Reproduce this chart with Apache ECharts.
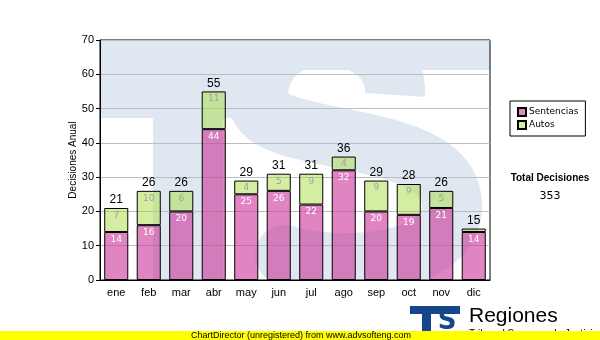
<!DOCTYPE html>
<html><head><meta charset="utf-8">
<script src="https://cdn.jsdelivr.net/npm/echarts@6/dist/echarts.min.js"></script>
<style>html,body{margin:0;padding:0;background:#fff}#c{width:600px;height:340px}</style>
</head><body><div id="c"></div>
<script>
const months = ['ene','feb','mar','abr','may','jun','jul','ago','sep','oct','nov','dic'];
const sentencias = [14,16,20,44,25,26,22,32,20,19,21,14];
const autos = [7,10,6,11,4,5,9,4,9,9,5,1];
const yMin = 0, yMax = 70, yStep = 10;
const seriesNames = ['Sentencias','Autos'];
const totalTitle = 'Total Decisiones';
const yAxisTitle = 'Decisiones Anual';

const totals = sentencias.map((v,i)=>v+autos[i]);
const grandTotal = totals.reduce((a,b)=>a+b,0);
const wm = '#dfe8f1';

function bez(x1,y1,cpx1,cpy1,cpx2,cpy2,x2,y2,cap){
  return {type:'bezierCurve',z:-10,shape:{x1,y1,cpx1,cpy1,cpx2,cpy2,x2,y2},
    style:{fill:null,stroke:wm,lineWidth:60,lineCap:cap||'round'}};
}

const chart = echarts.init(document.getElementById('c'), null, {renderer:'canvas'});
chart.setOption({
  animation:false,
  backgroundColor:'#fff',
  grid:{left:100,right:110,top:40,bottom:60,show:true,borderColor:'#000',borderWidth:1,backgroundColor:'transparent'},
  legend:{
    data:seriesNames, orient:'vertical', left:510, top:101,
    borderColor:'#000', borderWidth:1, backgroundColor:'#fff',
    padding:[6,7,6,7], itemWidth:8, itemHeight:8, itemGap:3, icon:'rect',
    textStyle:{fontFamily:'DejaVu Sans',fontSize:9,color:'#000',padding:[0,0,0,-2]}
  },
  xAxis:{type:'category',data:months,
    axisLine:{lineStyle:{color:'#000',width:1}},
    axisTick:{alignWithLabel:true,length:4,lineStyle:{color:'#000'}},
    axisLabel:{fontFamily:'Liberation Sans',fontSize:11,color:'#000',margin:7}},
  yAxis:{type:'value',min:yMin,max:yMax,interval:yStep,
    name:yAxisTitle,nameLocation:'middle',nameGap:22,nameMoveOverlap:false,
    nameTextStyle:{fontFamily:'Liberation Sans',fontSize:10,color:'#000'},
    axisLine:{show:true,lineStyle:{color:'#000'}},
    axisTick:{show:true,length:4,lineStyle:{color:'#000'}},
    axisLabel:{fontFamily:'Liberation Sans',fontSize:11,color:'#000',margin:6},
    splitLine:{lineStyle:{color:'#bdbdbd',width:1}}},
  series:[
    {name:seriesNames[0],type:'bar',stack:'t',data:sentencias,barWidth:'74%',
     itemStyle:{color:'rgba(204,51,153,0.6)',borderColor:'#000',borderWidth:1},
     label:{show:true,position:'insideTop',distance:3,color:'#fff',fontFamily:'DejaVu Sans',fontSize:9}},
    {name:seriesNames[1],type:'bar',stack:'t',data:autos,
     itemStyle:{color:'rgba(170,220,70,0.5)',borderColor:'#000',borderWidth:1},
     label:{show:true,position:'insideTop',distance:3,color:'#a0a0a0',fontFamily:'DejaVu Sans',fontSize:9,
       formatter:p=>p.value>=3?String(p.value):''}},
    {name:'Total',type:'bar',stack:'t',data:totals.map(()=>0),
     itemStyle:{color:'transparent',borderWidth:0},
     label:{show:true,position:'top',distance:2,color:'#000',fontFamily:'Liberation Sans',fontSize:12,
       formatter:p=>String(totals[p.dataIndex])}}
  ],
  graphic:[
    {type:'rect',z:-10,shape:{x:100,y:40,width:150,height:78},style:{fill:wm}},
    {type:'rect',z:-10,shape:{x:153,y:40,width:70,height:240},style:{fill:wm}},
    {type:'rect',z:-10,shape:{x:300,y:40,width:190,height:30},style:{fill:wm}},
    bez(395,95, 400,20, 255,10, 258,100, 'butt'),
    bez(258,100, 262,150, 450,125, 452,205),
    bez(452,205, 454,265, 340,272, 285,255),
    {type:'rect',z:-5,shape:{x:0,y:0,width:600,height:40},style:{fill:'#fff'}},
    {type:'rect',z:-5,shape:{x:0,y:0,width:100,height:340},style:{fill:'#fff'}},
    {type:'rect',z:-5,shape:{x:490,y:0,width:110,height:340},style:{fill:'#fff'}},
    {type:'rect',z:-5,shape:{x:0,y:280,width:600,height:60},style:{fill:'#fff'}},
    {type:'text',z:5,style:{text:totalTitle,x:550,y:178,align:'center',verticalAlign:'middle',fontFamily:'Liberation Sans',fontWeight:'bold',fontSize:10,fill:'#000'}},
    {type:'text',z:5,style:{text:String(grandTotal),x:550,y:196,align:'center',verticalAlign:'middle',fontFamily:'DejaVu Sans',fontSize:11,fill:'#000'}},
    {type:'rect',z:5,shape:{x:410,y:306,width:50,height:8},style:{fill:'#16468c'}},
    {type:'rect',z:5,shape:{x:422,y:314,width:9,height:18},style:{fill:'#16468c'}},
    {type:'text',z:6,style:{text:'S',x:447,y:322,align:'center',verticalAlign:'middle',fontFamily:'DejaVu Sans',fontWeight:'bold',fontSize:26,fill:'#16468c'}},
    {type:'text',z:5,style:{text:'Regiones',x:469,y:316,align:'left',verticalAlign:'middle',fontFamily:'Liberation Sans',fontSize:21,fill:'#000'}},
    {type:'text',z:5,style:{text:'Tribunal Supremo de Justicia',x:469,y:334,align:'left',verticalAlign:'middle',fontFamily:'Liberation Sans',fontSize:10,fill:'#000'}},
    {type:'rect',z:10,shape:{x:0,y:331,width:600,height:9},style:{fill:'#ffff00'}},
    {type:'text',z:11,style:{text:'ChartDirector (unregistered) from www.advsofteng.com',x:191,y:335.5,align:'left',verticalAlign:'middle',fontFamily:'Liberation Sans',fontSize:9,fill:'#000'}}
  ]
});
</script></body></html>
